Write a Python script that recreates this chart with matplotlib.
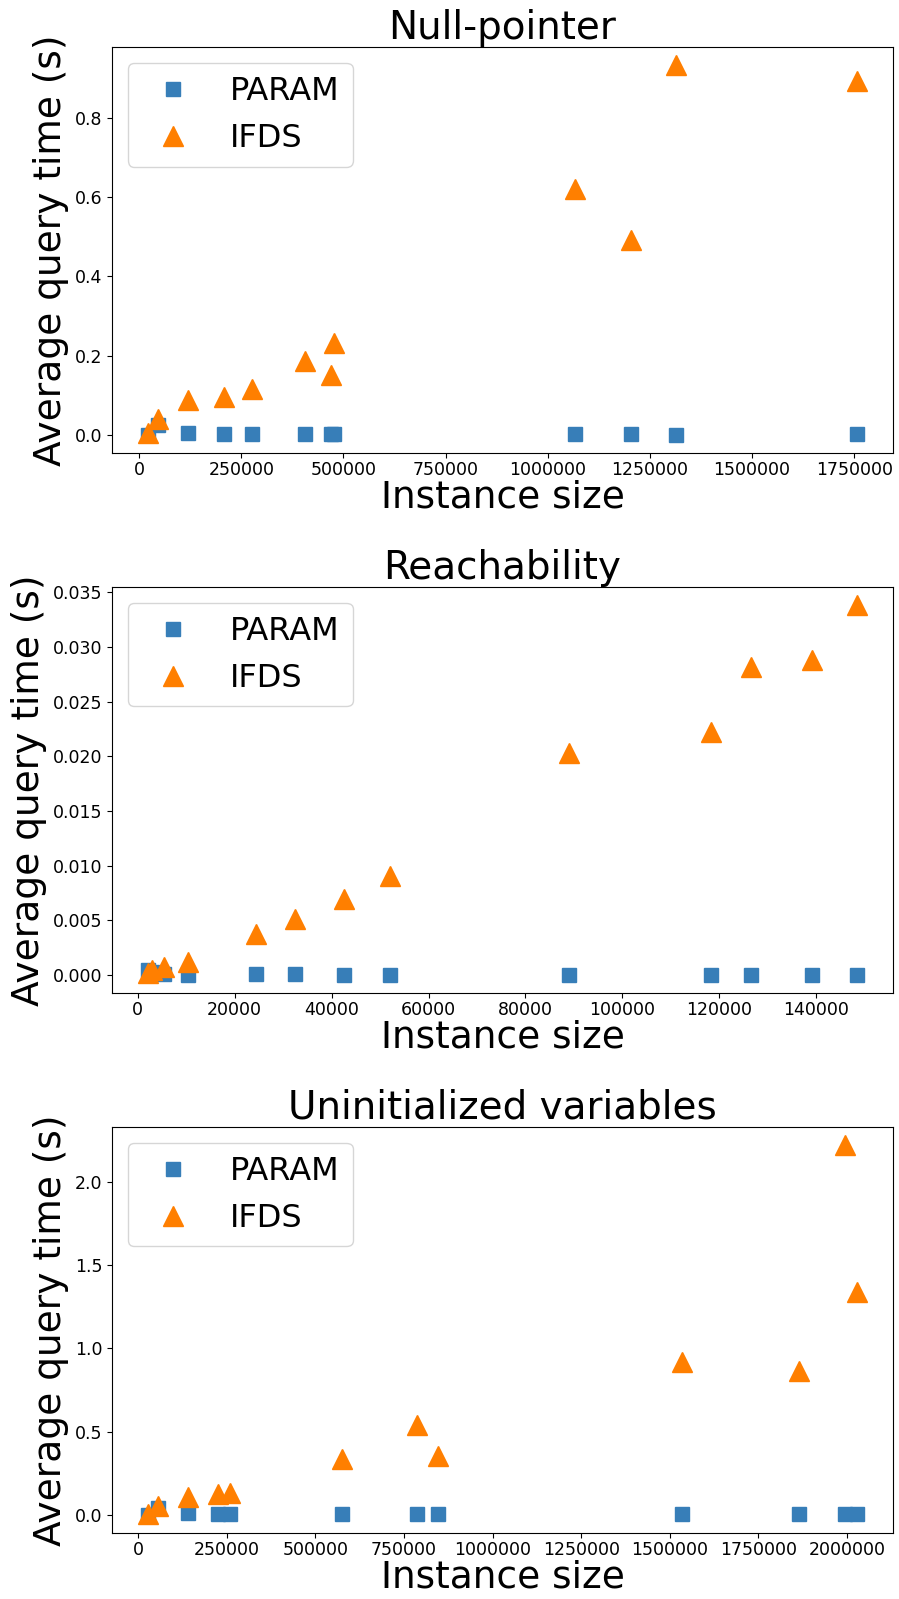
import numpy as np
import matplotlib
matplotlib.use("Agg")
import matplotlib.pyplot as plt
from matplotlib.ticker import MultipleLocator

## data
np_size = [20500, 45000, 120000, 208000, 277000, 407000, 468500, 476600,
           1066600, 1204000, 1313400, 1758000]
np_param = [0.001, 0.025, 0.006, 0.003, 0.003, 0.002, 0.002, 0.002,
            0.002, 0.002, 0.001, 0.002]
np_ifds = [0.005, 0.040, 0.088, 0.096, 0.117, 0.187, 0.151, 0.233,
           0.621, 0.492, 0.932, 0.894]

re_size = [2000, 3000, 5360, 10390, 24400, 32400, 42560, 52040,
           88950, 118300, 126480, 139060, 148540]
re_param = [0.0004, 0.0003, 0.0001, 0.00003, 0.0001, 0.0001, 0.00003, 0.00003,
            0.00003, 0.00003, 0.00003, 0.00003, 0.00003]
re_ifds = [0.0002, 0.0004, 0.0007, 0.00119, 0.00372, 0.0051, 0.00695, 0.00905,
           0.0203, 0.0222, 0.0282, 0.0288, 0.0338]

uv_size = [26700, 56600, 141100, 225600, 259400, 576000, 787300, 846500,
           1533800, 1863400, 1995800, 2029600]
uv_param = [0.002, 0.044, 0.010, 0.005, 0.006, 0.004, 0.004, 0.004,
            0.005, 0.006, 0.006, 0.008]
uv_ifds = [0.004, 0.056, 0.108, 0.128, 0.132, 0.337, 0.542, 0.353,
           0.919, 0.863, 2.22, 1.34]

panels = [
  ("Null-pointer", np_size, np_param, np_ifds, 250000, 0.2),
  ("Reachability", re_size, re_param, re_ifds, 20000, 0.005),
  ("Uninitialized variables", uv_size, uv_param, uv_ifds, 250000, 0.5),
]

BLUE, ORANGE = "#377eb8", "#ff7f00"

fig, axes = plt.subplots(3, 1, figsize=(8.99, 15.99), dpi=100)
fig.subplots_adjust(left=0.1246, right=0.9933, top=0.9706, bottom=0.0413,
                    hspace=0.33)

for ax, (title, size, param, ifds, xstep, ystep) in zip(axes, panels):
  ax.plot(size, param, "s", color=BLUE, markersize=10, label="PARAM")
  ax.plot(size, ifds, "^", color=ORANGE, markersize=14, label="IFDS")
  ax.set_title(title, fontsize=28)
  ax.set_xlabel("Instance size", fontsize=27, labelpad=0)
  ax.set_ylabel("Average query time (s)", fontsize=27)
  ax.xaxis.set_major_locator(MultipleLocator(xstep))
  ax.yaxis.set_major_locator(MultipleLocator(ystep))
  ax.ticklabel_format(style="plain", axis="x", useOffset=False)
  ax.tick_params(labelsize=12.5)
  ax.tick_params(axis="x", pad=2.5)
  ax.legend(loc="upper left", fontsize=23)

fig.savefig("out.png", dpi=100)
